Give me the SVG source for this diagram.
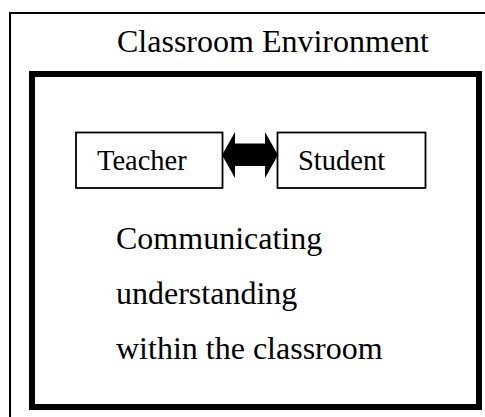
<svg xmlns="http://www.w3.org/2000/svg" width="485" height="417" viewBox="0 0 485 417">
  <style>
    text { font-family: "Liberation Serif", "Times New Roman", serif; fill: #000; }
    .title { font-size: 32px; }
    .label { font-size: 28.5px; }
    .body { font-size: 32px; }
    .box { fill: #fff; stroke: #000; stroke-width: 1.8; }
  </style>
  <rect width="485" height="417" fill="#fff"/>

  <!-- outer environment frame (runs off the right and bottom edges) -->
  <g id="environment">
    <path d="M10,420 V13 H490" fill="none" stroke="#000" stroke-width="2"/>
    <text class="title" x="117" y="51.7">Classroom Environment</text>
  </g>

  <!-- inner classroom frame -->
  <g id="classroom">
    <rect x="32" y="74" width="447" height="333" fill="none" stroke="#000" stroke-width="6"/>
  </g>

  <g id="teacher">
    <rect class="box" x="76" y="132.5" width="146.5" height="55.5"/>
    <text class="label" x="97" y="170">Teacher</text>
  </g>

  <g id="student">
    <rect class="box" x="277.5" y="132.5" width="148" height="55.5"/>
    <text class="label" x="298" y="170">Student</text>
  </g>

  <g id="connectors">
    <polygon points="222,155 235,132 235,143.5 265,143.5 265,132 278,155 265,178 265,166 235,166 235,178" fill="#000"/>
  </g>

  <g id="description">
    <text class="body" x="116" y="249">Communicating</text>
    <text class="body" x="116" y="304">understanding</text>
    <text class="body" x="116" y="358.5">within the classroom</text>
  </g>
</svg>
